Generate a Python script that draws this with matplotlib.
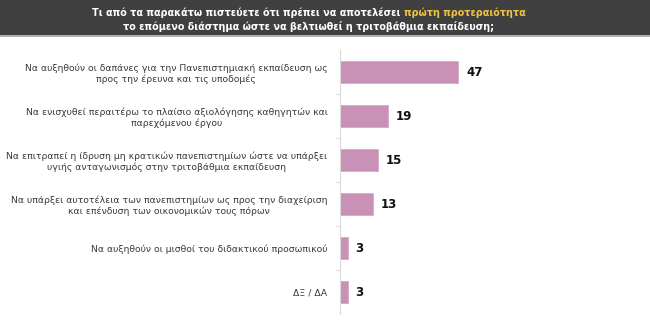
import matplotlib
matplotlib.use("Agg")
import matplotlib.pyplot as plt
from matplotlib.patches import Rectangle

# data
answers = [
    "Να αυξηθούν οι δαπάνες για την Πανεπιστημιακή εκπαίδευση ως\nπρος την έρευνα και τις υποδομές",
    "Να ενισχυθεί περαιτέρω το πλαίσιο αξιολόγησης καθηγητών και\nπαρεχόμενου έργου",
    "Να επιτραπεί η ίδρυση μη κρατικών πανεπιστημίων ώστε να υπάρξει\nυγιής ανταγωνισμός στην τριτοβάθμια εκπαίδευση",
    "Να υπάρξει αυτοτέλεια των πανεπιστημίων ως προς την διαχείριση\nκαι επένδυση των οικονομικών τους πόρων",
    "Να αυξηθούν οι μισθοί του διδακτικού προσωπικού",
    "ΔΞ / ΔΑ",
]
percent = [47, 19, 15, 13, 3, 3]

title_start = "Τι από τα παρακάτω πιστεύετε ότι πρέπει να αποτελέσει "
title_highlight = "πρώτη προτεραιότητα"
title_line2 = "το επόμενο διάστημα ώστε να βελτιωθεί η τριτοβάθμια εκπαίδευση;"

bar_color = "#c991b5"
header_color = "#404040"
highlight_color = "#f3c244"

plt.rcParams["font.family"] = ["DejaVu Sans"]

W, H = 650, 326
fig = plt.figure(figsize=(W / 100, H / 100), dpi=100)

# dark header band
fig.patches.append(Rectangle((0, 1 - 35 / H), 1, 35 / H, transform=fig.transFigure,
                             facecolor=header_color, edgecolor="none", zorder=0))
fig.patches.append(Rectangle((0, 1 - 37 / H), 1, 2 / H, transform=fig.transFigure,
                             facecolor="#b0b0b0", edgecolor="none", zorder=0))

# first title line in two colours, centred as a whole
tsize = 6.9
title_cx = 309 / W
renderer = fig.canvas.get_renderer()
y1 = 1 - 13 / H
t1 = fig.text(0, y1, title_start, color="white", fontsize=tsize, fontweight="bold",
              va="center", ha="left")
t2 = fig.text(0, y1, title_highlight, color=highlight_color, fontsize=tsize,
              fontweight="bold", va="center", ha="left")
w1 = t1.get_window_extent(renderer).width / W
w2 = t2.get_window_extent(renderer).width / W
x0 = title_cx - (w1 + w2) / 2
t1.set_x(x0)
t2.set_x(x0 + w1)
fig.text(title_cx, 1 - 26 / H, title_line2, color="white", fontsize=tsize,
         fontweight="bold", va="center", ha="center")

# chart area
left, right = 340 / W, (340 + 125.5) / W
bottom, top = 1 - 314 / H, 1 - 50 / H
ax = fig.add_axes([left, bottom, right - left, top - bottom])

ypos = list(range(len(percent)))
ax.barh(ypos, percent, height=0.49, color=bar_color, edgecolor="#d9aac8", linewidth=0.6)
ax.set_xlim(0, 50)
ax.set_ylim(len(percent) - 0.5, -0.5)

for y, v in zip(ypos, percent):
    ax.text(v + 3.2, y, str(v), va="center", ha="left", fontsize=8.5,
            fontweight="bold", color="#111111", clip_on=False)

ax.set_yticks(ypos)
ax.set_yticklabels(answers, fontsize=6.65, color="#3a3a3a")
for lab in ax.get_yticklabels():
    lab.set_multialignment("center")
ax.tick_params(axis="y", which="major", length=0, pad=9)
ax.set_yticks([i + 0.5 for i in range(len(percent) - 1)], minor=True)
ax.tick_params(axis="y", which="minor", length=3, color="#d9d9d9", width=0.8)

ax.set_xticks([])
for s in ["top", "right", "bottom"]:
    ax.spines[s].set_visible(False)
ax.spines["left"].set_color("#d9d9d9")
ax.spines["left"].set_linewidth(0.8)

fig.savefig("out.png", dpi=100, facecolor="white")
